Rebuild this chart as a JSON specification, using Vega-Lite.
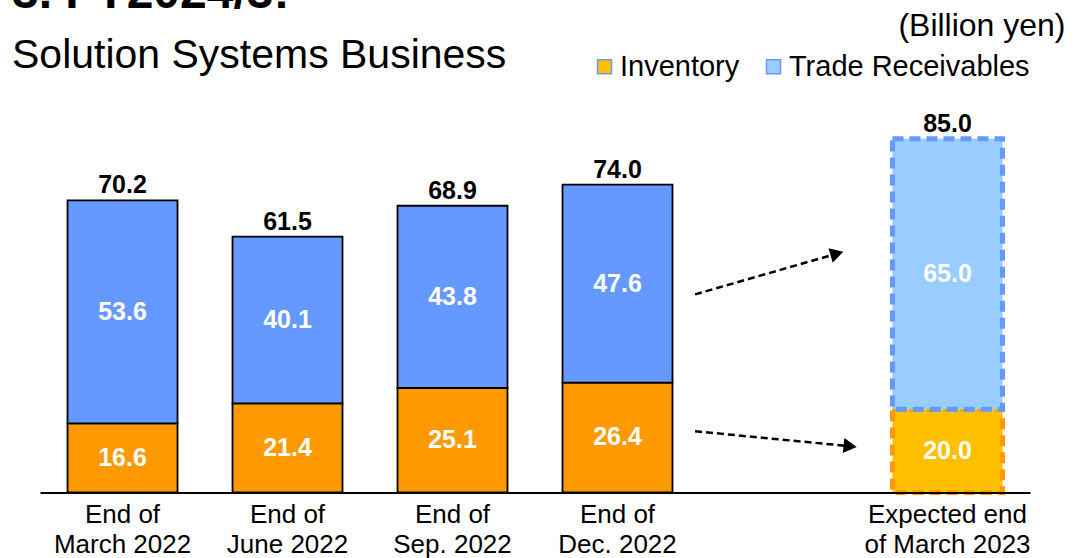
{
  "$schema": "https://vega.github.io/schema/vega-lite/v6.json",
  "width": 990,
  "height": 374.4,
  "autosize": {"type": "none"},
  "padding": {"left": 40, "top": 118, "right": 45, "bottom": 66},
  "title": {
    "text": "3. FY2024/3:",
    "subtitle": "Solution Systems Business",
    "anchor": "start",
    "frame": "group",
    "font": "Liberation Sans",
    "fontSize": 48,
    "fontWeight": "bold",
    "color": "black",
    "subtitleFont": "Liberation Sans",
    "subtitleFontSize": 41,
    "subtitleColor": "black",
    "subtitlePadding": 18,
    "dx": -28,
    "offset": -66
  },
  "config": {
    "view": {"stroke": null},
    "font": "Liberation Sans",
    "axisY": {
      "domain": false,
      "ticks": false,
      "labels": false,
      "grid": false,
      "titleAngle": 0,
      "titleAlign": "right",
      "titleBaseline": "alphabetic",
      "titleX": 35,
      "titleY": -82,
      "titleFont": "Liberation Sans",
      "titleFontSize": 32,
      "titleFontWeight": "normal",
      "titleColor": "black"
    }
  },
  "datasets": {
    "bars": [
      {"period": "End of|March 2022", "series": "Inventory", "value": 16.6, "kind": "Actual", "ord": 1},
      {"period": "End of|March 2022", "series": "Trade Receivables", "value": 53.6, "kind": "Actual", "ord": 2},
      {"period": "End of|June 2022", "series": "Inventory", "value": 21.4, "kind": "Actual", "ord": 1},
      {"period": "End of|June 2022", "series": "Trade Receivables", "value": 40.1, "kind": "Actual", "ord": 2},
      {"period": "End of|Sep. 2022", "series": "Inventory", "value": 25.1, "kind": "Actual", "ord": 1},
      {"period": "End of|Sep. 2022", "series": "Trade Receivables", "value": 43.8, "kind": "Actual", "ord": 2},
      {"period": "End of|Dec. 2022", "series": "Inventory", "value": 26.4, "kind": "Actual", "ord": 1},
      {"period": "End of|Dec. 2022", "series": "Trade Receivables", "value": 47.6, "kind": "Actual", "ord": 2},
      {"period": "Expected end|of March 2023", "series": "Inventory", "value": 20.0, "kind": "Forecast", "ord": 1},
      {"period": "Expected end|of March 2023", "series": "Trade Receivables", "value": 65.0, "kind": "Forecast", "ord": 2}
    ],
    "arrows": [
      {"arrow": "upper", "x": 3.97, "y": 47.6, "end": 0},
      {"arrow": "upper", "x": 4.83, "y": 57.4, "end": 1},
      {"arrow": "lower", "x": 3.97, "y": 14.7, "end": 0},
      {"arrow": "lower", "x": 4.91, "y": 11.1, "end": 1}
    ]
  },
  "layer": [
    {
      "data": {"name": "bars"},
      "transform": [
        {"stack": "value", "groupby": ["period"], "sort": [{"field": "ord", "order": "ascending"}], "as": ["v0", "v1"]}
      ],
      "layer": [
        {
          "transform": [{"filter": "datum.kind == 'Actual' && datum.series == 'Inventory'"}],
          "mark": {"type": "bar", "fill": "#FF9900", "stroke": "black", "strokeWidth": 1.8},
          "encoding": {
            "x": {
              "field": "period",
              "type": "nominal",
              "scale": {
                "domain": ["End of|March 2022", "End of|June 2022", "End of|Sep. 2022", "End of|Dec. 2022", "gap", "Expected end|of March 2023"],
                "paddingInner": 0.3333,
                "paddingOuter": 0.1667
              },
              "axis": {
                "title": null,
                "domain": true,
                "domainColor": "black",
                "domainWidth": 2,
                "ticks": false,
                "labelAngle": 0,
                "labelFont": "Liberation Sans",
                "labelFontSize": 26,
                "labelColor": "black",
                "labelPadding": 9,
                "labelLineHeight": 30,
                "labelExpr": "datum.value == 'gap' ? '' : split(datum.value, '|')",
                "zindex": 1
              }
            },
            "y": {
              "field": "v1",
              "type": "quantitative",
              "scale": {"domain": [0, 90], "nice": false},
              "axis": {"orient": "right", "title": "(Billion yen)"}
            },
            "y2": {"field": "v0"}
          }
        },
        {
          "transform": [{"filter": "datum.kind == 'Actual' && datum.series == 'Trade Receivables'"}],
          "mark": {"type": "bar", "fill": "#6699FF", "stroke": "black", "strokeWidth": 1.8},
          "encoding": {
            "x": {"field": "period", "type": "nominal"},
            "y": {"field": "v1", "type": "quantitative", "axis": {"orient": "right", "title": "(Billion yen)"}},
            "y2": {"field": "v0"}
          }
        },
        {
          "transform": [{"filter": "datum.kind == 'Forecast' && datum.series == 'Inventory'"}],
          "mark": {"type": "bar", "stroke": "#FF9900", "strokeWidth": 5, "strokeDash": [11, 6], "opacity": 1},
          "encoding": {
            "x": {"field": "period", "type": "nominal"},
            "y": {"field": "v1", "type": "quantitative", "axis": {"orient": "right", "title": "(Billion yen)"}},
            "y2": {"field": "v0"},
            "color": {
              "field": "series",
              "type": "nominal",
              "scale": {"domain": ["Inventory", "Trade Receivables"], "range": ["#FFC000", "#99CCFF"]},
              "legend": {
                "title": null,
                "orient": "none",
                "legendX": 550,
                "legendY": -66,
                "padding": 0,
                "direction": "horizontal",
                "symbolType": "square",
                "symbolSize": 196,
                "symbolStrokeColor": "black",
                "symbolStrokeWidth": 1.5,
                "symbolOpacity": 1,
                "labelFont": "Liberation Sans",
                "labelFontSize": 29,
                "labelColor": "black",
                "labelLimit": 400,
                "labelOffset": 1,
                "columnPadding": 19
              }
            }
          }
        },
        {
          "transform": [{"filter": "datum.kind == 'Forecast' && datum.series == 'Trade Receivables'"}],
          "mark": {"type": "bar", "stroke": "#6699FF", "strokeWidth": 5, "strokeDash": [11, 6], "opacity": 1},
          "encoding": {
            "x": {"field": "period", "type": "nominal"},
            "y": {"field": "v1", "type": "quantitative", "axis": {"orient": "right", "title": "(Billion yen)"}},
            "y2": {"field": "v0"},
            "color": {"field": "series", "type": "nominal"}
          }
        },
        {
          "transform": [{"fold": ["v0", "v1"], "as": ["edge", "pos"]}],
          "mark": {"type": "text", "font": "Liberation Sans", "fontSize": 25, "fontWeight": "bold", "color": "white", "baseline": "middle"},
          "encoding": {
            "x": {"field": "period", "type": "nominal"},
            "y": {"aggregate": "mean", "field": "pos", "type": "quantitative", "axis": {"orient": "right", "title": "(Billion yen)"}},
            "detail": {"field": "series"},
            "text": {"field": "value", "type": "quantitative", "format": ".1f"}
          }
        },
        {
          "mark": {"type": "text", "font": "Liberation Sans", "fontSize": 25, "fontWeight": "bold", "color": "black", "baseline": "alphabetic", "dy": -7},
          "encoding": {
            "x": {"field": "period", "type": "nominal"},
            "y": {"aggregate": "sum", "field": "value", "type": "quantitative", "axis": {"orient": "right", "title": "(Billion yen)"}},
            "text": {"aggregate": "sum", "field": "value", "type": "quantitative", "format": ".1f"}
          }
        }
      ]
    },
    {
      "data": {"name": "arrows"},
      "layer": [
        {
          "mark": {"type": "line", "color": "black", "strokeWidth": 2.5, "strokeDash": [7, 4]},
          "encoding": {
            "x": {"field": "x", "type": "quantitative", "scale": {"domain": [0, 6], "nice": false, "zero": false}, "axis": null},
            "y": {"field": "y", "type": "quantitative", "axis": {"orient": "right", "title": "(Billion yen)"}},
            "detail": {"field": "arrow"},
            "order": {"field": "end"}
          }
        },
        {
          "transform": [{"filter": "datum.arrow == 'upper' && datum.end == 1"}],
          "mark": {"type": "point", "shape": "triangle-right", "filled": true, "color": "black", "opacity": 1, "size": 230, "angle": -16},
          "encoding": {
            "x": {"field": "x", "type": "quantitative"},
            "y": {"field": "y", "type": "quantitative", "axis": {"orient": "right", "title": "(Billion yen)"}}
          }
        },
        {
          "transform": [{"filter": "datum.arrow == 'lower' && datum.end == 1"}],
          "mark": {"type": "point", "shape": "triangle-right", "filled": true, "color": "black", "opacity": 1, "size": 230, "angle": 6},
          "encoding": {
            "x": {"field": "x", "type": "quantitative"},
            "y": {"field": "y", "type": "quantitative", "axis": {"orient": "right", "title": "(Billion yen)"}}
          }
        }
      ]
    }
  ],
  "resolve": {"scale": {"x": "independent"}}
}
